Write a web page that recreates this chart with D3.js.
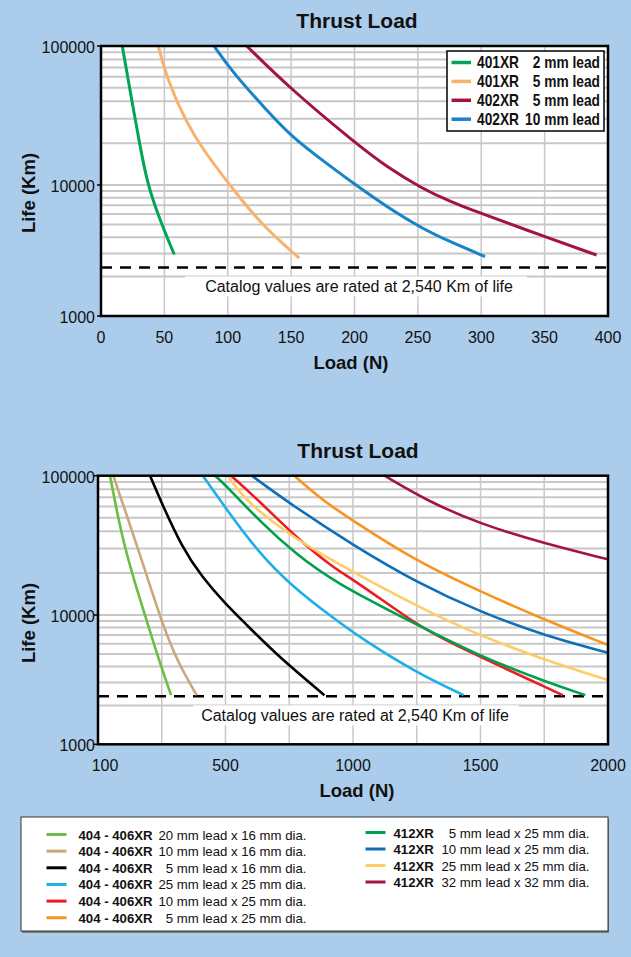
<!DOCTYPE html>
<html>
<head>
<meta charset="utf-8">
<script src="https://d3js.org/d3.v7.min.js"></script>
<style>
  html, body { margin: 0; padding: 0; background: #abcdeb; }
  svg { display: block; font-family: "Liberation Sans", Arial, Helvetica, sans-serif; }
</style>
</head>
<body>
<svg id="chart" width="631" height="957"></svg>
<script>
// ---- data: [load N, life Km] ----
var lifeTicks = [1000, 10000, 100000];
var lifeTickLabels = ["1000", "10000", "100000"];
var catalogLife = 2350;
var catalogText = "Catalog values are rated at 2,540 Km of life";

// upper chart
var topLoadTicks = [0, 50, 100, 150, 200, 250, 300, 350, 400];
var s401_2mm  = [[16.8,100000],[22.9,48000],[30.8,19000],[36.8,10000],[46.5,5400],[57.8,2950]];
var s401_5mm  = [[45.2,100000],[52.3,57000],[67.6,27800],[80.5,18000],[100.4,10300],[125.4,5100],[156.4,2760]];
var s402_5mm  = [[115,100000],[150.4,48300],[201,19950],[225.4,13500],[253,9440],[275.3,7460],[303.5,5900],[353.5,3920],[391,2920]];
var s402_10mm = [[89.2,100000],[104.4,63600],[130.7,34600],[150.4,22200],[178,14300],[201,10000],[225.4,6820],[253,4670],[275.3,3690],[303,2840]];
var topModels = ["401XR", "401XR", "402XR", "402XR"];
var topLeads  = ["2 mm lead", "5 mm lead", "5 mm lead", "10 mm lead"];

// lower chart
var bottomLoadTicks = [0, 500, 1000, 1500, 2000];
var bottomLoadTickLabels = ["100", "500", "1000", "1500", "2000"];
var bottomLoadGrid = [250, 500, 750, 1000, 1250, 1500, 1750];
var s406_20x16 = [[47,100000],[93,36500],[145,16900],[184.5,10000],[230,5060],[286.5,2400]];
var s406_10x16 = [[60,100000],[119,48100],[184.5,21000],[256,8120],[315,4230],[387,2400]];
var s406_5x16  = [[204,100000],[250,63400],[328.5,30900],[407,18800],[498.5,12100],[577,8630],[708,4760],[888,2400]];
var s406_25x25 = [[411,100000],[500,58600],[632,27700],[763,15960],[917,9650],[1041,6410],[1253,3540],[1434,2400]];
var s406_10x25 = [[522,100000],[642,63400],[773,36500],[923,21800],[1005,17800],[1253,8370],[1355,6410],[1822,2400]];
var s406_5x25  = [[770,100000],[878,67000],[1005,46800],[1240,24800],[1500,14700],[1754,9150],[2000,5860]];
var s412_5x25  = [[459,100000],[500,85800],[642,45500],[773,27700],[923,17300],[1253,8370],[1502,4760],[1754,3050],[1911,2400]];
var s412_10x25 = [[603,100000],[760,61600],[1005,31300],[1253,17000],[1499,10500],[1754,6890],[2000,5110]];
var s412_25x25 = [[509,100000],[564,70700],[721,40800],[923,24100],[1253,11470],[1500,6880],[1754,4480],[2000,3140]];
var s412_32x32 = [[1124,100000],[1290,66000],[1499,45000],[1748,32700],[2000,25100]];
var leftModels = ["404 - 406XR","404 - 406XR","404 - 406XR","404 - 406XR","404 - 406XR","404 - 406XR"];
var leftDescs  = ["20 mm lead x 16 mm dia.","10 mm lead x 16 mm dia.","5 mm lead x 16 mm dia.",
                  "25 mm lead x 25 mm dia.","10 mm lead x 25 mm dia.","5 mm lead x 25 mm dia."];
var rightModels = ["412XR","412XR","412XR","412XR"];
var rightDescs  = ["5 mm lead x 25 mm dia.","10 mm lead x 25 mm dia.","25 mm lead x 25 mm dia.","32 mm lead x 32 mm dia."];

var topSeries = [
  {pts: s401_2mm,  color: "#00a651"},
  {pts: s401_5mm,  color: "#f9b26b"},
  {pts: s402_5mm,  color: "#a3133f"},
  {pts: s402_10mm, color: "#1584c8"}
];
var leftSeries = [
  {pts: s406_20x16, color: "#6cbd45"},
  {pts: s406_10x16, color: "#c9a97a"},
  {pts: s406_5x16,  color: "#000000"},
  {pts: s406_25x25, color: "#1cb0ea"},
  {pts: s406_10x25, color: "#ed1c24"},
  {pts: s406_5x25,  color: "#f7941d"}
];
var rightSeries = [
  {pts: s412_5x25,  color: "#00a14b"},
  {pts: s412_10x25, color: "#0e6fb8"},
  {pts: s412_25x25, color: "#fdcd67"},
  {pts: s412_32x32, color: "#a3143e"}
];

var svg = d3.select("#chart");
var grid = "#c8c8c8";

function minorLife() {
  var out = [];
  [1000, 10000].forEach(function (k) {
    for (var m = 2; m <= 9; m++) out.push(m * k);
  });
  return out;
}

function drawChart(c) {
  var x = c.x, y = c.y;
  var x0 = x.range()[0], x1 = x.range()[1];
  var yTop = y(100000), yBot = y(1000);
  var g = svg.append("g");

  g.append("rect").attr("x", x0).attr("y", yTop).attr("width", x1 - x0).attr("height", yBot - yTop)
    .attr("fill", "#fff");

  // horizontal grid
  g.selectAll(".hg").data(minorLife().concat([10000])).enter().append("line")
    .attr("x1", x0).attr("x2", x1)
    .attr("y1", function (d) { return y(d); }).attr("y2", function (d) { return y(d); })
    .attr("stroke", grid).attr("stroke-width", 2);
  // vertical grid + small ticks below
  g.selectAll(".vg").data(c.xGrid).enter().append("line")
    .attr("x1", function (d) { return x(d); }).attr("x2", function (d) { return x(d); })
    .attr("y1", yTop).attr("y2", yBot + 4)
    .attr("stroke", grid).attr("stroke-width", 1.5);

  // label box hides the grid
  g.append("rect").attr("x", c.boxX[0]).attr("y", y(catalogLife) + 9)
    .attr("width", c.boxX[1] - c.boxX[0]).attr("height", 20).attr("fill", "#fff");

  // catalog line
  g.append("line").attr("x1", x0).attr("x2", x1)
    .attr("y1", y(catalogLife)).attr("y2", y(catalogLife))
    .attr("stroke", "#000").attr("stroke-width", 2.5).attr("stroke-dasharray", "11,8");
  g.append("text").attr("x", c.catX).attr("y", y(catalogLife) + 25)
    .attr("text-anchor", "middle").attr("font-size", 16).attr("fill", "#111").text(catalogText);

  var line = d3.line()
    .x(function (d) { return x(d[0]); })
    .y(function (d) { return y(d[1]); })
    .curve(d3.curveBasis);
  c.series.forEach(function (s) {
    g.append("path").attr("d", line(s.pts)).attr("fill", "none")
      .attr("stroke", s.color).attr("stroke-width", c.lineW).attr("stroke-linecap", "butt");
  });

  // frame
  g.append("rect").attr("x", x0).attr("y", yTop).attr("width", x1 - x0).attr("height", yBot - yTop)
    .attr("fill", "none").attr("stroke", "#000").attr("stroke-width", 2.5);

  // y axis ticks and labels
  g.selectAll(".yt").data(lifeTicks).enter().append("line")
    .attr("x1", x0 - 4).attr("x2", x0)
    .attr("y1", function (d) { return y(d); }).attr("y2", function (d) { return y(d); })
    .attr("stroke", "#000").attr("stroke-width", 1.5);
  g.selectAll(".yl").data(lifeTicks).enter().append("text")
    .attr("x", 95).attr("y", function (d) { return y(d) + 1.5; })
    .attr("dy", "0.35em").attr("text-anchor", "end").attr("font-size", 16).attr("fill", "#111")
    .text(function (d, i) { return lifeTickLabels[i]; });

  // x labels
  g.selectAll(".xl").data(c.xTicks).enter().append("text")
    .attr("x", function (d, i) { return x(d) + (i === 0 ? c.firstDx : 0); })
    .attr("y", yBot + 27).attr("text-anchor", "middle").attr("font-size", 16).attr("fill", "#111")
    .text(function (d, i) { return c.xLabels[i]; });

  // titles
  g.append("text").attr("x", c.titleX).attr("y", yTop - 18).attr("text-anchor", "middle")
    .attr("font-size", 21).attr("font-weight", "bold").attr("fill", "#111").text("Thrust Load");
  g.append("text").attr("x", c.xTitleX).attr("y", yBot + 53).attr("text-anchor", "middle")
    .attr("font-size", 18.5).attr("font-weight", "bold").attr("fill", "#111").text("Load (N)");
  g.append("text").attr("transform", "translate(35," + c.yTitleY + ") rotate(-90)")
    .attr("text-anchor", "middle").attr("font-size", 18.5).attr("font-weight", "bold")
    .attr("fill", "#111").text("Life (Km)");
}

// upper chart
var xTop = d3.scaleLinear().domain([0, 400]).range([101, 608]);
var yTop = d3.scaleLog().domain([1000, 10000, 100000]).range([316, 185, 46]);
drawChart({
  x: xTop, y: yTop, xGrid: topLoadTicks.slice(1, -1), xTicks: topLoadTicks,
  xLabels: topLoadTicks.map(String), firstDx: 0, series: topSeries, lineW: 3,
  boxX: [185, 527], catX: 359, titleX: 357, xTitleX: 351, yTitleY: 193
});

// upper legend (condensed bold type)
var lg = svg.append("g");
lg.append("rect").attr("x", 447).attr("y", 51).attr("width", 157).attr("height", 80)
  .attr("fill", "#fff").attr("stroke", "#000").attr("stroke-width", 1.5);
topSeries.forEach(function (s, i) {
  var yy = 62.5 + i * 18.9;
  lg.append("line").attr("x1", 451.5).attr("x2", 471).attr("y1", yy).attr("y2", yy)
    .attr("stroke", s.color).attr("stroke-width", 3.5);
  lg.append("text").attr("transform", "translate(477," + (yy + 5.5) + ") scale(0.86,1)")
    .attr("font-size", 16).attr("font-weight", "bold").attr("fill", "#111")
    .text(topModels[i]);
  lg.append("text").attr("transform", "translate(600," + (yy + 5.5) + ") scale(0.86,1)")
    .attr("text-anchor", "end").attr("font-size", 16).attr("font-weight", "bold")
    .attr("fill", "#111").text(topLeads[i]);
});

// lower chart
var xBot = d3.scaleLinear().domain([0, 2000]).range([98, 608]);
var yBot = d3.scaleLog().domain([1000, 10000, 100000]).range([744.3, 615, 475.7]);
drawChart({
  x: xBot, y: yBot, xGrid: bottomLoadGrid, xTicks: bottomLoadTicks,
  xLabels: bottomLoadTickLabels, firstDx: 7, series: leftSeries.concat(rightSeries), lineW: 2.6,
  boxX: [193, 519], catX: 355, titleX: 358, xTitleX: 357, yTitleY: 623
});

// lower legend
var bl = svg.append("g");
bl.append("rect").attr("x", 22).attr("y", 819).attr("width", 587).attr("height", 114).attr("fill", "#7a7c80");
bl.append("rect").attr("x", 21).attr("y", 817).attr("width", 587).attr("height", 114)
  .attr("fill", "#fff").attr("stroke", "#333").attr("stroke-width", 1);
function legendColumn(series, models, descs, sx, tx, rx, y0, step) {
  series.forEach(function (s, i) {
    var yy = y0 + i * step;
    bl.append("line").attr("x1", sx).attr("x2", sx + 20).attr("y1", yy).attr("y2", yy)
      .attr("stroke", s.color).attr("stroke-width", 3);
    bl.append("text").attr("x", tx).attr("y", yy + 5).attr("font-size", 13.2).attr("font-weight", "bold")
      .attr("fill", "#111").text(models[i]);
    bl.append("text").attr("x", rx).attr("y", yy + 5).attr("text-anchor", "end").attr("font-size", 13.2)
      .attr("fill", "#111").text(descs[i]);
  });
}
legendColumn(leftSeries, leftModels, leftDescs, 46.5, 78.5, 306.5, 834.5, 16.65);
legendColumn(rightSeries, rightModels, rightDescs, 365.5, 393.5, 589.5, 832.5, 16.5);
</script>
</body>
</html>
